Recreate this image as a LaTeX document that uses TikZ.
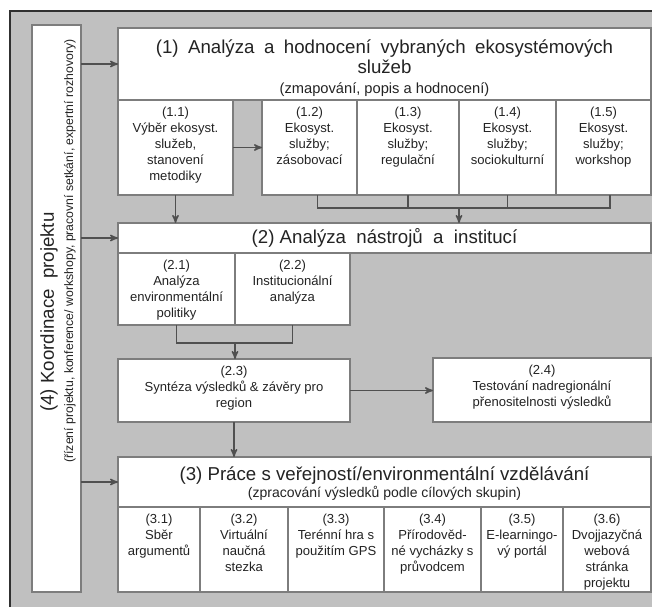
\documentclass[tikz,border=0pt]{standalone}
\usepackage{fontspec}
\setmainfont{Liberation Sans}
\usetikzlibrary{arrows,positioning}

\definecolor{bggray}{RGB}{192,192,192}
\definecolor{boxline}{RGB}{125,125,125}
\definecolor{arrowc}{RGB}{80,80,80}
\definecolor{txt}{RGB}{35,35,35}

\newdimen\pxu \pxu=0.75pt
% cell with text at its top
\newcommand{\cell}[3]{\parbox[c][#2\pxu][t]{#1\pxu}{\centering\fontsize{9.8}{12}\selectfont\rule{0pt}{12pt}#3\par}}

\begin{document}
\begin{tikzpicture}[x=0.75pt,y=-0.75pt,>=stealth',semithick]
		\tikzstyle{box}=[draw=boxline,line width=0.8pt,fill=white,inner sep=0pt,outer sep=0pt,anchor=north west,text=txt]
		\tikzstyle{line}=[draw=arrowc,line width=1.1pt]

		\useasboundingbox (0,0) rectangle (652,607);
		\fill[bggray] (10,11) rectangle (652,607);
		\draw[arrowc!60!black,line width=1.5pt] (10,607) -- (10,11) -- (652,11);

		% (4) coordination
		\node[box,minimum width=36.75pt,minimum height=425.25pt] (b4) at (32,25) {};
		\node[rotate=90,text=txt,font=\fontsize{14}{16}\selectfont] (t4) at (49,312) {(4) Koordinace\ \ projektu};
		\node[rotate=90,text=txt,font=\fontsize{9.2}{10}\selectfont] (t4s) at (70,251) {(řízení projektu, konference/ workshopy, pracovní setkání, expertní rozhovory)};

		% (1)
		\node[box] (h1) at (118,28) {\parbox[c][72\pxu][t]{533\pxu}{\centering\fontsize{14}{15}\selectfont\rule{0pt}{18.75pt}\makebox[343pt][s]{(1) Analýza a hodnocení vybraných ekosystémových}\\ služeb\par\fontsize{11}{15}\selectfont(zmapování, popis a hodnocení)\par}};
		\node[box] (a11) at (118,100) {\cell{115}{95}{(1.1)\\Výběr ekosyst.\\služeb,\\stanovení\\metodiky}};
		\node[box] (a12) at (262,100) {\cell{95}{95}{(1.2)\\Ekosyst.\\služby;\\zásobovací}};
		\node[box,right=0pt of a12] (a13) {\cell{102}{95}{(1.3)\\Ekosyst.\\služby;\\regulační}};
		\node[box,right=0pt of a13] (a14) {\cell{97}{95}{(1.4)\\Ekosyst.\\služby;\\sociokulturní}};
		\node[box,right=0pt of a14] (a15) {\cell{95}{95}{(1.5)\\Ekosyst.\\služby;\\workshop}};

		% (2)
		\node[box] (h2) at (118,223) {\parbox[c][30\pxu][c]{533\pxu}{\centering\fontsize{14}{15}\selectfont(2) Analýza\ \ nástrojů\ \ a\ \ institucí}};
		\node[box] (a21) at (118,253) {\cell{117}{72}{(2.1)\\Analýza\\environmentální\\politiky}};
		\node[box,right=0pt of a21] (a22) {\cell{115}{72}{(2.2)\\Institucionální\\analýza}};
		\node[box] (a23) at (118,359) {\cell{232}{63}{(2.3)\\Syntéza výsledků \& závěry pro\\region}};
		\node[box] (a24) at (433,358) {\cell{218}{64}{(2.4)\\Testování nadregionální\\přenositelnosti výsledků}};

		% (3)
		\node[box] (h3) at (118,457) {\parbox[c][50\pxu][t]{533\pxu}{\centering\fontsize{14}{13}\selectfont\rule{0pt}{17.25pt}(3) Práce s veřejností/environmentální vzdělávání\par\fontsize{10.5}{12.75}\selectfont(zpracování výsledků podle cílových skupin)\par}};
		\node[box] (a31) at (118,507) {\cell{82}{85}{(3.1)\\Sběr\\argumentů}};
		\node[box,right=0pt of a31] (a32) {\cell{88}{85}{(3.2)\\Virtuální\\naučná\\stezka}};
		\node[box,right=0pt of a32] (a33) {\cell{96}{85}{(3.3)\\Terénní hra s\\použitím GPS}};
		\node[box,right=0pt of a33] (a34) {\cell{97}{85}{(3.4)\\Přírodověd-\\né vycházky s\\průvodcem}};
		\node[box,right=0pt of a34] (a35) {\cell{82}{85}{(3.5)\\E-learningo-\\vý portál}};
		\node[box,right=0pt of a35] (a36) {\cell{88}{85}{(3.6)\\Dvojjazyčná\\webová\\stránka\\projektu}};

		% connectors
		\coordinate (m1) at (459,208);
		\coordinate (m2) at (235,343);
		\draw[line,->] (h1.west -| b4.east) -- (h1.west);
		\draw[line,->] (h2.west -| b4.east) -- (h2.west);
		\draw[line,->] (h3.west -| b4.east) -- (h3.west);
		\draw[line,->] (a11) -- (a12);
		\draw[line,->] (a11.south) -- (a11.south |- h2.north);
		\draw[line] ([xshift=6pt]a12.south) |- ([xshift=5pt]a15.south |- m1) -- ([xshift=5pt]a15.south);
		\draw[line] (a13.south) -- (a13.south |- m1);
		\draw[line] (a14.south) -- (a14.south |- m1);
		\draw[line,->] (m1) -- (m1 |- h2.north);
		\draw[line] (a21.south) |- (a22.south |- m2) -- (a22.south);
		\draw[line,->] (m2) -- (m2 |- a23.north);
		\draw[line,->] (a23.east) -- (a23.east -| a24.west);
		\draw[line,->] (a23.south) -- (a23.south |- h3.north);
	\end{tikzpicture}
\end{document}
